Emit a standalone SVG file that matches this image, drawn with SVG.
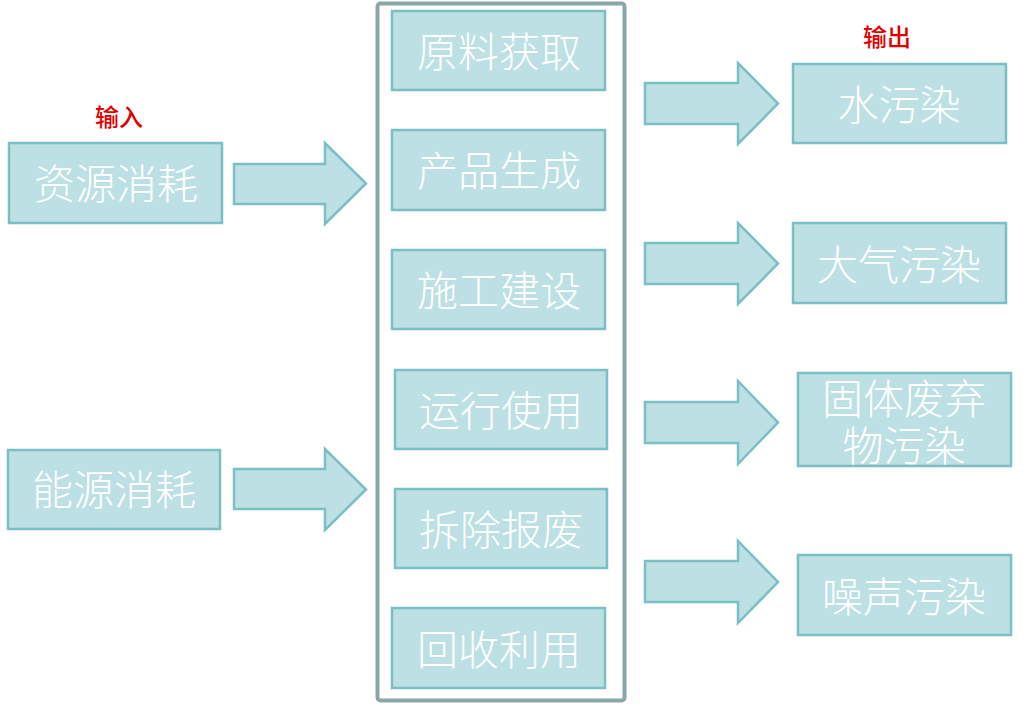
<svg xmlns="http://www.w3.org/2000/svg" width="1023" height="709" viewBox="0 0 1023 709">
<style>
.box{fill:#bce0e3;stroke:#79bfc4;stroke-width:2.5}
.arr{fill:#bce0e3;stroke:#79bfc4;stroke-width:2.5;stroke-linejoin:miter}
.t{font-family:"Noto Sans CJK SC","Noto Sans",sans-serif;font-size:41px;font-weight:300;fill:#ffffff;text-anchor:middle;dominant-baseline:central}
.lbl{font-family:"Noto Sans CJK SC","Noto Sans",sans-serif;font-size:24px;font-weight:500;fill:#e00000;text-anchor:middle;dominant-baseline:central}
</style>
<rect width="1023" height="709" fill="#ffffff"/>
<g id="frame">
<rect x="377.5" y="3.5" width="247" height="697" rx="3" fill="none" stroke="#89a6aa" stroke-width="4"/>
</g>
<g id="label-input"><text class="lbl" x="119" y="115">输入</text></g>
<g id="label-output"><text class="lbl" x="887" y="35">输出</text></g>
<g id="n-resource"><rect class="box" x="9" y="143" width="213" height="80"/><text class="t" x="116" y="181">资源消耗</text></g>
<g id="n-energy"><rect class="box" x="8" y="450" width="212" height="79"/><text class="t" x="114" y="487">能源消耗</text></g>
<g id="n-s1"><rect class="box" x="392" y="11" width="213" height="79"/><text class="t" x="499" y="49">原料获取</text></g>
<g id="n-s2"><rect class="box" x="392" y="130" width="213" height="80"/><text class="t" x="499" y="168">产品生成</text></g>
<g id="n-s3"><rect class="box" x="392" y="250" width="213" height="79"/><text class="t" x="499" y="288">施工建设</text></g>
<g id="n-s4"><rect class="box" x="395" y="370" width="212" height="79"/><text class="t" x="501" y="408">运行使用</text></g>
<g id="n-s5"><rect class="box" x="395" y="489" width="212" height="79"/><text class="t" x="501" y="527">拆除报废</text></g>
<g id="n-s6"><rect class="box" x="392" y="608" width="213" height="80"/><text class="t" x="499" y="647">回收利用</text></g>
<g id="n-water"><rect class="box" x="793" y="64" width="213" height="79"/><text class="t" x="899" y="102">水污染</text></g>
<g id="n-air"><rect class="box" x="793" y="223" width="213" height="80"/><text class="t" x="899" y="262">大气污染</text></g>
<g id="n-solid"><rect class="box" x="798" y="373" width="213" height="93"/><text class="t"><tspan x="904" y="396">固体废弃</tspan><tspan x="904" y="443">物污染</tspan></text></g>
<g id="n-noise"><rect class="box" x="798" y="555" width="213" height="80"/><text class="t" x="904" y="594">噪声污染</text></g>
<g id="connectors">
<polygon class="arr" points="234,164 325,164 325,143 366,183.5 325,224 325,204 234,204"/>
<polygon class="arr" points="234,469 325,469 325,449 366,489.5 325,530 325,509 234,509"/>
<polygon class="arr" points="645,83 738,83 738,63 778,103.5 738,144 738,124 645,124"/>
<polygon class="arr" points="645,243 738,243 738,223 778,263.5 738,304 738,284 645,284"/>
<polygon class="arr" points="645,402 738,402 738,381 778,422.5 738,464 738,443 645,443"/>
<polygon class="arr" points="645,561 738,561 738,541 778,582 738,623 738,602 645,602"/>
</g>
</svg>
